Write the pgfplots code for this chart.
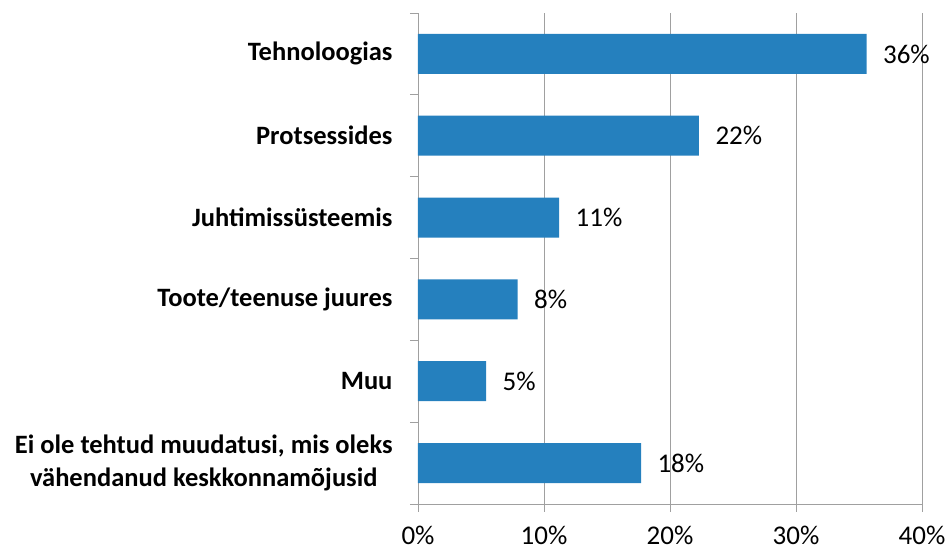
\documentclass[border=0pt]{standalone}
\usepackage{pgfplots}
\pgfplotsset{compat=1.18}
\usepackage{fontspec}
\setmainfont{Carlito}
\definecolor{barblue}{RGB}{37,128,190}
\definecolor{gridgrey}{RGB}{160,160,160}

\begin{document}
\begin{tikzpicture}
\begin{axis}[
  scale only axis,
  width=504pt, height=491pt,
  xbar, bar width=40pt,
  xmin=0, xmax=40, ymin=-0.5, ymax=5.5,
  axis x line=bottom, axis y line=left,
  axis line style={draw=gridgrey, -},
  tick style={draw=gridgrey, line width=0.8pt},
  tick align=outside,
  xtick={0,10,20,30,40},
  xticklabel={\pgfmathprintnumber{\tick}\%},
  xticklabel style={font=\fontsize{27}{32}\selectfont, anchor=center, yshift=-23pt},
  major tick length=8pt,
  xmajorgrids=true,
  major grid style={draw=gridgrey, line width=0.8pt},
  ytick={-0.5,0.5,1.5,2.5,3.5,4.5,5.5},
  yticklabels={},
  extra y ticks={0,...,5},
  extra y tick labels={{Ei ole tehtud muudatusi, mis oleks\\vähendanud keskkonnamõjusid}, Muu, Toote/teenuse juures, Juhtimissüsteemis, Protsessides, Tehnoloogias},
  extra y tick style={major tick length=0pt, ymajorgrids=false,
    yticklabel style={font=\fontsize{26.5}{33}\selectfont\bfseries, align=center, xshift=-22pt}},
  /pgf/number format/assume math mode=true,
  nodes near coords={\pgfmathprintnumber[fixed,precision=0]{\pgfplotspointmeta}\%},
  every node near coord/.append style={anchor=west, xshift=13pt, font=\fontsize{27}{32}\selectfont, black},
]
\addplot[fill=barblue, draw=none] coordinates {(17.7,0) (5.4,1) (7.9,2) (11.2,3) (22.3,4) (35.6,5)};
\end{axis}
\pgfresetboundingbox
\useasboundingbox ([xshift=-418pt,yshift=13pt]current axis.north west) rectangle ([xshift=23pt,yshift=-47pt]current axis.south east);
\end{tikzpicture}
\end{document}
